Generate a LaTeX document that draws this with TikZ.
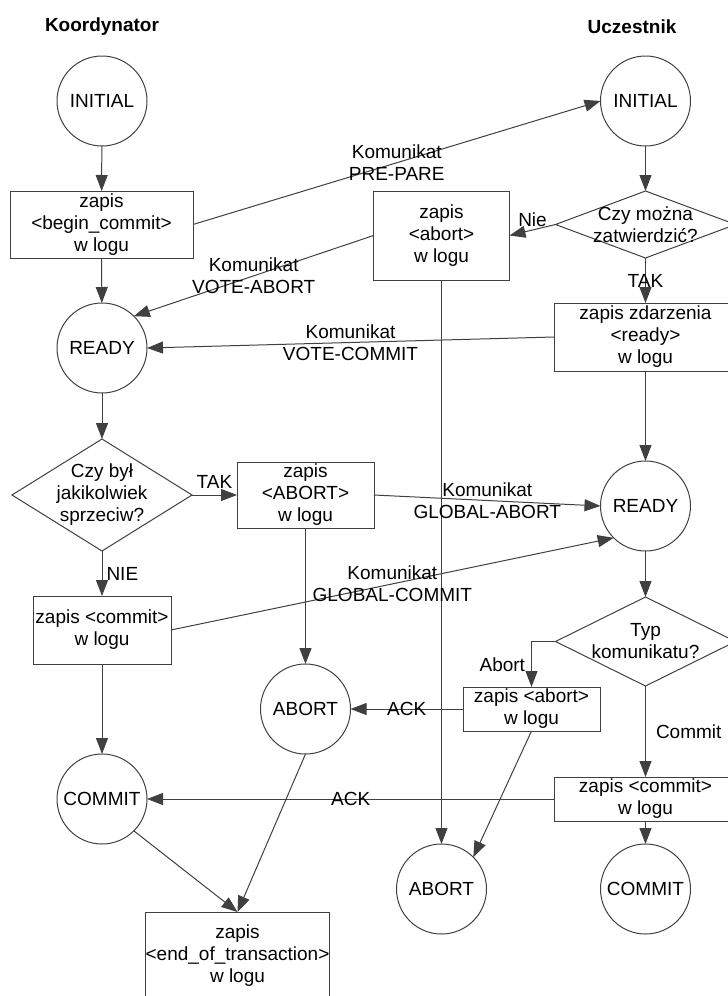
\documentclass[tikz,border=0pt]{standalone}
\usepackage{fontspec}
\setmainfont{Liberation Sans}
\usetikzlibrary{shapes.geometric,arrows.meta}
\begin{document}
\begin{tikzpicture}[x=1pt,y=-1pt,
  font=\fontsize{19}{22}\selectfont,
  every node/.style={text=black},
  ln/.style={draw=black!75, line width=1pt},
  arr/.style={ln, -{Triangle[length=16pt,width=12pt]}},
  state/.style={circle, draw=black!75, line width=1pt, minimum size=90pt, inner sep=0pt, outer sep=0pt},
  box/.style={rectangle, draw=black!75, line width=1pt, inner sep=0pt, outer sep=0pt, align=center},
  dia/.style={diamond, draw=black!75, line width=1pt, inner sep=0pt, outer sep=0pt},
  txt/.style={align=center, inner sep=0pt},
  lab/.style={align=center, inner sep=0pt}
]
\useasboundingbox (0,0) rectangle (728,996);
\clip (0,0) rectangle (728,996);

% titles
\node[txt, font=\fontsize{19}{22}\selectfont\bfseries] (tk) at (102,27) {Koordynator};
\node[txt, font=\fontsize{19}{22}\selectfont\bfseries] (tu) at (632,27) {Uczestnik};

% coordinator
\node[state] (ki) at (102,101) {INITIAL};
\node[box, minimum width=183pt, minimum height=67pt] (kbc) at (101.5,224.5) {zapis\\<begin\_commit>\\w logu};
\node[state] (kr) at (102,348) {READY};
\node[dia, minimum width=180pt, minimum height=112pt] (kd) at (102,495) {};
\node[txt] (kdt) at (kd.center) {Czy był\\jakikolwiek\\sprzeciw?};
\node[box, minimum width=137pt, minimum height=66pt] (kab) at (305.5,495) {zapis\\<ABORT>\\w logu};
\node[box, minimum width=138pt, minimum height=68pt] (kc) at (102,630) {zapis <commit>\\w logu};
\node[state] (kA) at (305.5,709) {ABORT};
\node[state] (kC) at (102,799) {COMMIT};
\node[box, minimum width=181pt, minimum height=88pt] (ke) at (237.5,956) {zapis\\<end\_of\_transaction>\\w logu};

% participant
\node[state] (ui) at (645.5,101) {INITIAL};
\node[dia, minimum width=180pt, minimum height=67pt] (ud) at (645.5,224.5) {};
\node[txt] (udt) at (ud.center) {Czy można\\zatwierdzić?};
\node[box, minimum width=136pt, minimum height=89pt] (ua) at (441.5,235.5) {zapis\\<abort>\\w logu};
\node[box, minimum width=183pt, minimum height=68pt] (urb) at (645.5,337) {zapis zdarzenia\\<ready>\\w logu};
\node[state] (ur) at (645.5,506) {READY};
\node[dia, minimum width=180pt, minimum height=89pt] (ut) at (645.5,641.5) {};
\node[txt] (utt) at (ut.center) {Typ\\komunikatu?};
\node[box, minimum width=137pt, minimum height=44pt] (usa) at (531.5,709) {zapis <abort>\\w logu};
\node[box, minimum width=182pt, minimum height=44pt] (usc) at (645.5,799) {zapis <commit>\\w logu};
\node[state] (uA) at (441.5,889) {ABORT};
\node[state] (uC) at (645.5,889) {COMMIT};

% coordinator flow
\draw[arr] (ki) -- (kbc);
\draw[arr] (kbc) -- (kr);
\draw[arr] (kr) -- (kd.north);
\draw[arr] (kd.east) -- node[midway, above, inner sep=6pt] (lt1) {TAK} (kab.west);
\draw[arr] (kd.south) -- node[midway, right, inner sep=4pt] (ln1) {NIE} (kc.north);
\draw[arr] (kab.south) -- (kA.north);
\draw[arr] (kc.south) -- (kC.north);
\draw[arr] (kC.south east) -- (ke.north);
\draw[arr] (kA.south) -- (ke.north);

% participant flow
\draw[arr] (ui) -- (ud.north);
\draw[arr] (ud.west) -- node[midway, above, inner sep=3pt] (lnie) {Nie} (ua.east);
\draw[arr] (ud.south) -- node[midway, lab] (lt2) {TAK} (urb.north);
\draw[arr] (urb.south) -- (ur.north);
\draw[arr] (ur.south) -- (ut.north);
\draw[arr] (ut.west) -| node[pos=0.75, left, inner sep=6pt] (lab1) {Abort} (usa.north);
\draw[arr] (ut.south) -- node[midway, right, inner sep=0pt, xshift=10pt] (lcm) {Commit} (usc.north);
\draw[arr] (usc.south) -- (uC.north);
\draw[arr] (usa.south) -- (uA.north east);
\draw[arr] (ua.south) -- (uA.north);

% messages
\draw[arr] (kbc.east) -- node[midway, lab] (m1) {Komunikat\\PRE-PARE} (ui.west);
\draw[arr] (ua.west) -- node[midway, lab] (m2) {Komunikat\\VOTE-ABORT} (kr.45);
\draw[arr] (urb.west) -- node[midway, lab] (m3) {Komunikat\\VOTE-COMMIT} (kr.east);
\draw[arr] (kab.east) -- node[midway, lab] (m4) {Komunikat\\GLOBAL-ABORT} (ur.west);
\draw[arr] (kc.east) -- node[midway, lab] (m5) {Komunikat\\GLOBAL-COMMIT} (ur.south west);
\draw[arr] (usa.west) -- node[midway, lab] (m6) {ACK} (kA.east);
\draw[arr] (usc.west) -- node[midway, lab] (m7) {ACK} (kC.east);
\end{tikzpicture}
\end{document}
